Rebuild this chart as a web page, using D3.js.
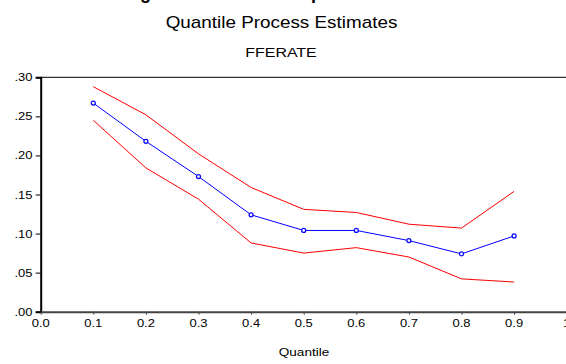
<!DOCTYPE html>
<html>
<head>
<meta charset="utf-8">
<script src="https://cdn.jsdelivr.net/npm/d3@7"></script>
<style>
  html, body { margin: 0; padding: 0; background: #fff; }
  svg { display: block; }
  text { font-family: "Liberation Sans", Arial, sans-serif; fill: #000; }
</style>
</head>
<body>
<svg id="chart" width="566" height="364"></svg>
<script>
// Quantile levels and estimates for FFERATE
const quantiles = [0.1, 0.2, 0.3, 0.4, 0.5, 0.6, 0.7, 0.8, 0.9];
const estimate  = [0.267, 0.218, 0.173, 0.124, 0.104, 0.104, 0.091, 0.074, 0.097];
const upperBand = [0.288, 0.252, 0.202, 0.159, 0.131, 0.127, 0.112, 0.107, 0.154];
const lowerBand = [0.245, 0.184, 0.144, 0.088, 0.075, 0.082, 0.070, 0.042, 0.038];

const xTicks = [0, 0.1, 0.2, 0.3, 0.4, 0.5, 0.6, 0.7, 0.8, 0.9, 1];
const yTicks = [0, 0.05, 0.10, 0.15, 0.20, 0.25, 0.30];

const svg = d3.select("#chart");
const sx = 1.18; // horizontal text stretch

const x = d3.scaleLinear().domain([0, 1]).range([40.7, 566.7]);
const y = d3.scaleLinear().domain([0, 0.3]).range([311.7, 77.3]);

// helper for stretched text
function label(txt, px, py, size, anchor, weight) {
  return svg.append("text")
    .attr("transform", `translate(${px},${py}) scale(${sx},1)`)
    .attr("text-anchor", anchor)
    .style("font-size", size + "px")
    .style("font-weight", weight || "normal")
    .text(txt);
}

// heading line above the chart, mostly outside the page
const head = svg.append("text")
  .attr("y", -1.5)
  .style("font-size", "18px")
  .style("font-weight", "bold");
head.append("tspan").attr("x", 124).text("Figure 1.");
head.append("tspan").attr("x", 311).text("plots");

// titles
label("Quantile Process Estimates", 281.5, 28.3, 16, "middle");
label("FFERATE", 281, 57.3, 13.5, "middle");

// frame: top border
svg.append("line")
  .attr("x1", x(0)).attr("x2", 566).attr("y1", y(0.3)).attr("y2", y(0.3))
  .attr("stroke", "#000").attr("stroke-width", 1);

// y axis
const yAxis = d3.axisLeft(y).tickValues(yTicks).tickSize(5)
  .tickFormat(d => d3.format(".2f")(d).replace(/^0/, ""));
const gy = svg.append("g").attr("transform", `translate(${x(0)},0)`).call(yAxis);
gy.select(".domain").attr("stroke", "#000").attr("stroke-width", 2);
gy.selectAll(".tick line").attr("stroke", "#000").attr("stroke-width", 1);
gy.selectAll(".tick text").remove();
yTicks.forEach(v => {
  label(d3.format(".2f")(v).replace(/^0/, ""), 32.5, y(v) + 4, 11, "end");
});

// x axis
const xAxis = d3.axisBottom(x).tickValues(xTicks).tickSize(3).tickSizeOuter(0);
const gx = svg.append("g").attr("transform", `translate(0,${y(0)})`).call(xAxis);
gx.select(".domain").attr("stroke", "#444").attr("stroke-width", 2);
gx.selectAll(".tick line").attr("stroke", "#444").attr("stroke-width", 1);
gx.selectAll(".tick text").remove();
xTicks.forEach(v => {
  label(v === 1 ? "1" : d3.format(".1f")(v), x(v), 327.3, 11, "middle");
});

label("Quantile", 304, 355.7, 11.5, "middle");

// series
const line = d3.line().x((d, i) => x(quantiles[i])).y(d => y(d));

svg.append("path").datum(upperBand)
  .attr("d", line).attr("fill", "none").attr("stroke", "#ff0000").attr("stroke-width", 1);
svg.append("path").datum(lowerBand)
  .attr("d", line).attr("fill", "none").attr("stroke", "#ff0000").attr("stroke-width", 1);
svg.append("path").datum(estimate)
  .attr("d", line).attr("fill", "none").attr("stroke", "#0000ff").attr("stroke-width", 1);

svg.selectAll("circle.pt").data(estimate).enter().append("circle")
  .attr("class", "pt")
  .attr("cx", (d, i) => x(quantiles[i]))
  .attr("cy", d => y(d))
  .attr("r", 2)
  .attr("fill", "#fff")
  .attr("stroke", "#0000ff")
  .attr("stroke-width", 1.2);
</script>
</body>
</html>
